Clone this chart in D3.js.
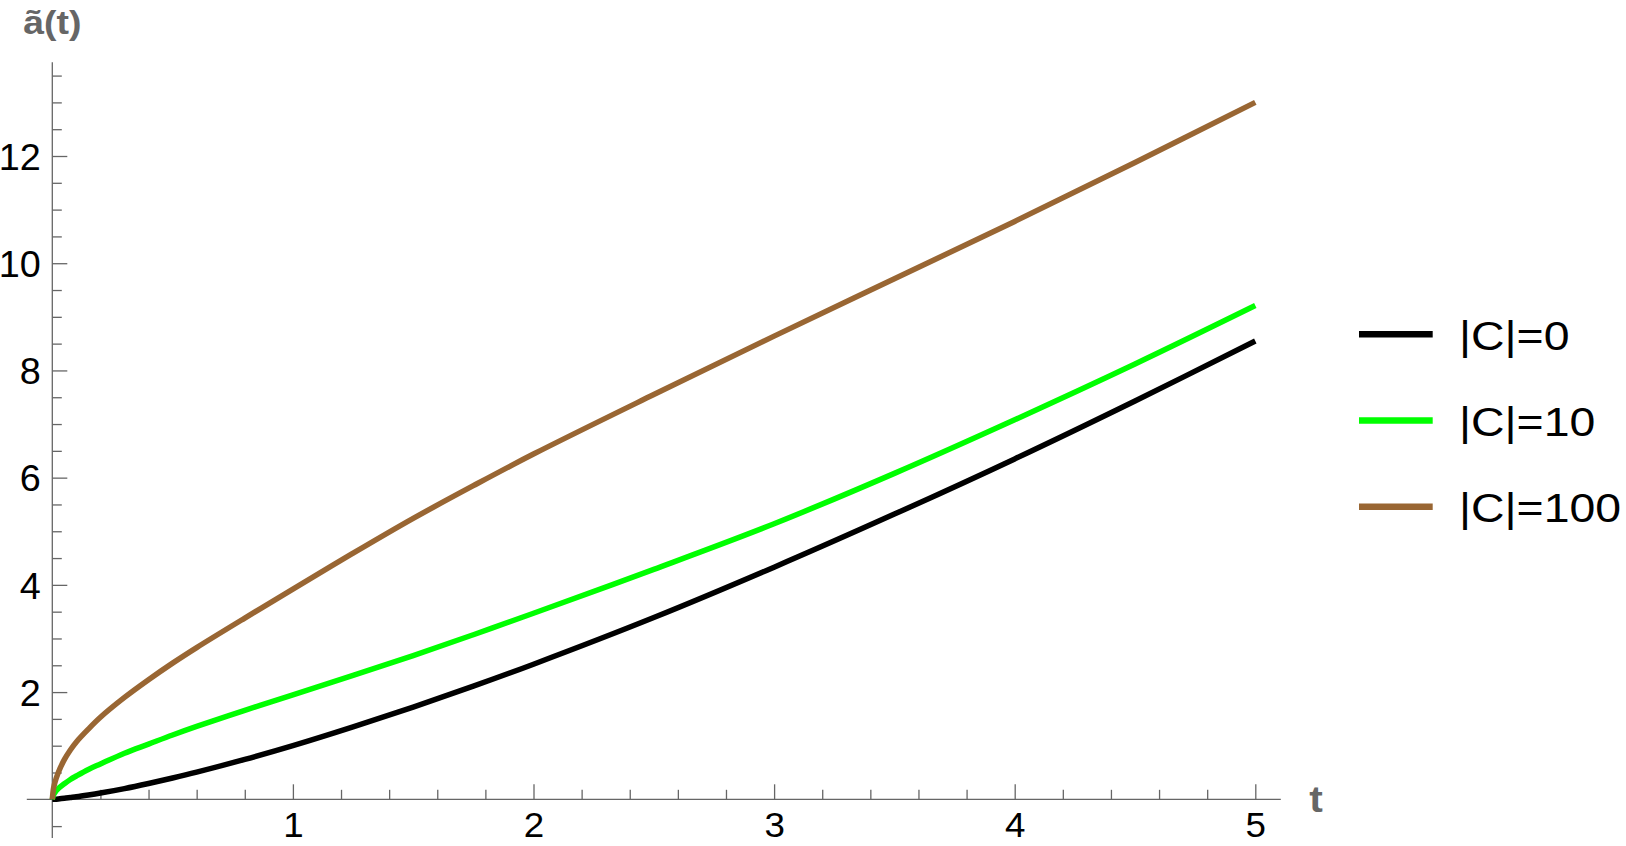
<!DOCTYPE html>
<html>
<head>
<meta charset="utf-8">
<script src="https://cdn.jsdelivr.net/npm/d3@7"></script>
<style>
  body { margin: 0; background: #fff; }
  svg { display: block; font-family: "Liberation Sans", Arial, sans-serif; }
</style>
</head>
<body>
<script>

// valores
const tValues = [0, 0.005, 0.01, 0.025, 0.05, 0.075, 0.1, 0.15, 0.2, 0.3, 0.4, 0.5, 0.6, 0.8, 1, 1.25, 1.5, 1.75, 2, 2.5, 3, 3.5, 4, 4.5, 5];
const serieC0 = [0, 0.001, 0.002, 0.007, 0.018, 0.032, 0.046, 0.08, 0.117, 0.2, 0.295, 0.397, 0.506, 0.743, 1.0, 1.35, 1.72, 2.11, 2.52, 3.39, 4.33, 5.32, 6.35, 7.43, 8.55];
const serieC10 = [0, 0.08, 0.12, 0.2, 0.29, 0.37, 0.435, 0.557, 0.66, 0.86, 1.03, 1.2, 1.36, 1.66, 1.95, 2.31, 2.68, 3.07, 3.47, 4.29, 5.14, 6.08, 7.08, 8.12, 9.21];
const serieC100 = [0, 0.2, 0.3, 0.5, 0.74, 0.92, 1.07, 1.31, 1.53, 1.9, 2.23, 2.54, 2.83, 3.38, 3.92, 4.59, 5.24, 5.85, 6.44, 7.55, 8.64, 9.71, 10.78, 11.88, 13.0];
const nombresSeries = ["|C|=0", "|C|=10", "|C|=100"];
const coloresSeries = ["#000000", "#00ff00", "#996633"];
const ticksX = [1, 2, 3, 4, 5];
const ticksY = [2, 4, 6, 8, 10, 12];

const series = [serieC0, serieC10, serieC100];
const grisEje = '#666666';

const svg = d3.select('body').append('svg')
    .attr('width', 1626)
    .attr('height', 846);

const x = d3.scaleLinear().domain([0, 5]).range([52.3, 1255.3]);
const y = d3.scaleLinear().domain([0, 12]).range([799.3, 156]);

// ticks menores
const menoresX = d3.range(1, 25).map(i => i * 0.2).filter(v => Math.abs(v - Math.round(v)) > 1e-6);
const menoresY = d3.range(-1, 28).map(i => i * 0.5).filter(v => v !== 0 && !ticksY.includes(v));

// lineas de los ejes
svg.append('line')
    .attr('x1', x(-0.106)).attr('x2', x(5.106))
    .attr('y1', y(0)).attr('y2', y(0))
    .attr('stroke', grisEje).attr('stroke-width', 1.3);
svg.append('line')
    .attr('x1', x(0)).attr('x2', x(0))
    .attr('y1', y(-0.72)).attr('y2', y(13.75))
    .attr('stroke', grisEje).attr('stroke-width', 1.3);

function estiloEje(g) {
    g.select('.domain').remove();
    g.selectAll('.tick line').attr('stroke', grisEje).attr('stroke-width', 1.3);
    g.selectAll('.tick text')
        .attr('fill', '#000')
        .attr('font-size', '36px')
        .attr('font-family', '"Liberation Sans", Arial, sans-serif')
        .attr('transform', 'scale(1.05,1)');
}

// eje x
svg.append('g')
    .attr('transform', `translate(0,${y(0)})`)
    .call(d3.axisBottom(x).tickValues(menoresX).tickSizeInner(-9.5).tickSizeOuter(0).tickFormat(''))
    .call(estiloEje);
svg.append('g')
    .attr('transform', `translate(0,${y(0)})`)
    .call(d3.axisBottom(x).tickValues(ticksX).tickSizeInner(-15).tickSizeOuter(0).tickPadding(13).tickFormat(d3.format('d')))
    .call(estiloEje)
    .selectAll('.tick text').attr('font-size', '35px');

// eje y
svg.append('g')
    .attr('transform', `translate(${x(0)},0)`)
    .call(d3.axisLeft(y).tickValues(menoresY).tickSizeInner(-9.5).tickSizeOuter(0).tickFormat(''))
    .call(estiloEje);
svg.append('g')
    .attr('transform', `translate(${x(0)},0)`)
    .call(d3.axisLeft(y).tickValues(ticksY).tickSizeInner(-15).tickSizeOuter(0).tickPadding(11).tickFormat(d3.format('d')))
    .call(estiloEje)
    .selectAll('.tick text').attr('dy', '0.37em');

// titulos de los ejes
svg.append('text')
    .attr('transform', `translate(${x(0)},34) scale(1.1,1)`)
    .attr('text-anchor', 'middle')
    .attr('font-size', '34px')
    .attr('font-weight', 'bold')
    .attr('fill', grisEje)
    .text('ã(t)');
svg.append('text')
    .attr('transform', `translate(1316,811.7) scale(1.1,1)`)
    .attr('text-anchor', 'middle')
    .attr('font-size', '37px')
    .attr('font-weight', 'bold')
    .attr('fill', grisEje)
    .text('t');

// curvas
const linea = d3.line()
    .x((d, i) => x(tValues[i]))
    .y(d => y(d))
    .curve(d3.curveCatmullRom.alpha(0.5));

svg.selectAll('path.curva')
    .data(series)
    .enter()
    .append('path')
    .attr('class', 'curva')
    .attr('d', linea)
    .attr('fill', 'none')
    .attr('stroke', (d, i) => coloresSeries[i])
    .attr('stroke-width', 5.5)
    .attr('stroke-linejoin', 'round');

// leyenda
const yLeyenda = d3.scaleLinear().domain([0, 2]).range([334.3, 506.7]);
const leyenda = svg.selectAll('g.leyenda')
    .data(nombresSeries)
    .enter()
    .append('g')
    .attr('class', 'leyenda')
    .attr('transform', (d, i) => `translate(0,${yLeyenda(i)})`);

leyenda.append('line')
    .attr('x1', 1359).attr('x2', 1432.7)
    .attr('y1', 0).attr('y2', 0)
    .attr('stroke', (d, i) => coloresSeries[i])
    .attr('stroke-width', 6.5);

leyenda.append('text')
    .attr('transform', `translate(1459,15.5) scale(1.16,1)`)
    .attr('font-size', '40px')
    .attr('fill', '#000')
    .text(d => d);

</script>
</body>
</html>
